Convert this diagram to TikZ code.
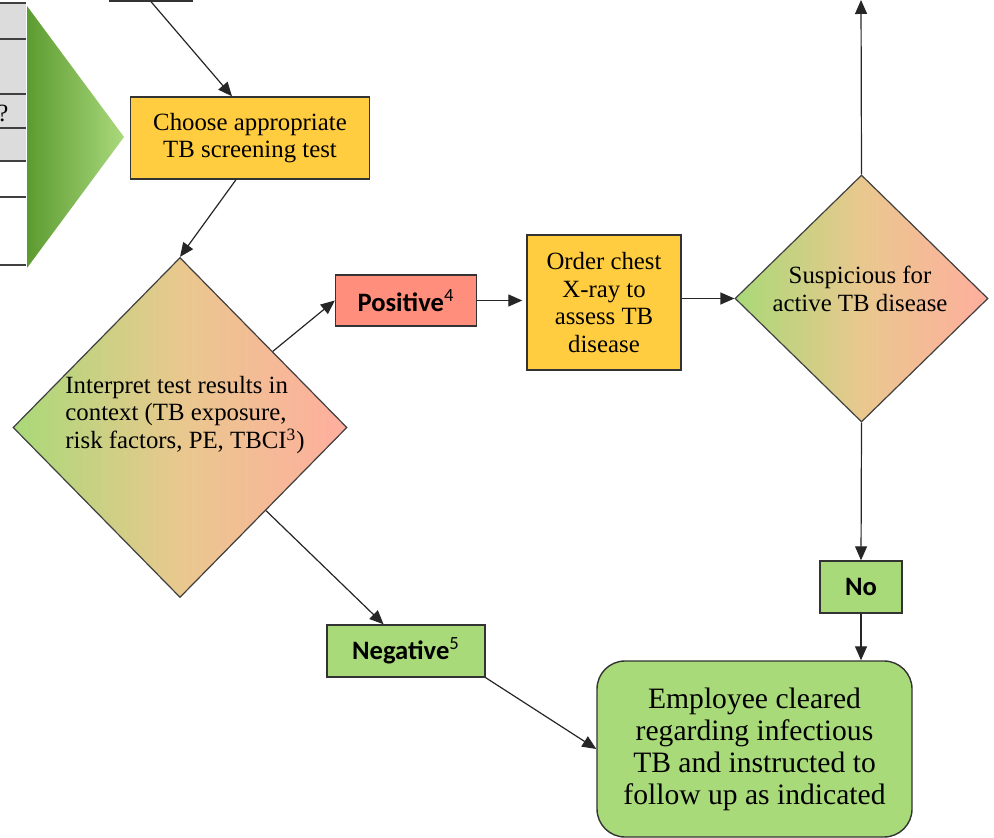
\documentclass[tikz,border=0pt]{standalone}
\usepackage{fontspec}
\setmainfont{Liberation Serif}
\newfontfamily\txtfont{Liberation Serif}
\newfontfamily\lblfont{Carlito}
\usetikzlibrary{shapes.geometric,arrows.meta}

\definecolor{boxyellow}{HTML}{FFCD3F}
\definecolor{boxsalmon}{HTML}{FF8E7C}
\definecolor{boxgreen}{HTML}{A9DA7A}
\definecolor{dmdgreen}{HTML}{A9D978}
\definecolor{dmdtan}{HTML}{E9C88E}
\definecolor{dmdpink}{HTML}{FFAE9E}
\definecolor{tabgray}{HTML}{DCDCDC}
\definecolor{trigdark}{HTML}{5C9B30}
\definecolor{triglight}{HTML}{AAD97C}

\begin{document}
\begin{tikzpicture}[x=0.5pt,y=-0.5pt,
    txt/.style={font=\txtfont\fontsize{12.4}{13.9}\selectfont},
    box/.style={rectangle, draw=black!80, line width=0.7pt, inner sep=0pt, align=center, txt},
    lbl/.style={rectangle, draw=black!80, line width=0.7pt, inner sep=0pt, font=\lblfont\bfseries\fontsize{13.3}{15}\selectfont},
    dmd/.style={diamond, draw=black!75, line width=0.6pt, inner sep=0pt, left color=dmdgreen, right color=dmdpink, middle color=dmdtan},
    arr/.style={-{Triangle[length=7pt,width=6pt]}, line width=0.6pt, draw=black!85}]
		\useasboundingbox (0,0) rectangle (994,838);

		% table fragment and green arrow on the left
		\fill[tabgray] (0,3) rectangle (26,161);
		\foreach \y in {3,39,94,128,161,197,265}
			\draw[line width=0.6pt, black!75] (0,\y) -- (26,\y);
		\node[txt] (qmark) at (3,113) {?};
		\shade[left color=trigdark, right color=triglight] (27,6) -- (124,137) -- (27,268) -- cycle;

		\path (151,-30) node[box, fill=white, minimum width=41pt, minimum height=31pt] (prev) {}
  		(250,138) node[box, fill=boxyellow, minimum width=119.5pt, minimum height=41pt] (choose) {Choose appropriate\\TB screening test}
  		(180,427.5) node[dmd, minimum width=167pt, minimum height=170pt] (interp) {}
  		(185,415) node[txt, align=left] (interptxt) {Interpret test results in\\context (TB exposure,\\risk factors, PE, TBCI\textsuperscript{3})}
  		(406,300.5) node[lbl, fill=boxsalmon, minimum width=70.5pt, minimum height=25.5pt] (pos) {Positive\textsuperscript{\mdseries 4}}
  		(604,302.5) node[box, fill=boxyellow, minimum width=77pt, minimum height=67.5pt] (xray) {Order chest\\X-ray to\\assess TB\\disease}
  		(861.5,298.5) node[dmd, minimum width=126.5pt, minimum height=123.5pt] (susp) {}
  		(860,289) node[txt, align=center] (susptxt) {Suspicious for\\active TB disease}
  		(861,587) node[lbl, fill=boxgreen, minimum width=41pt, minimum height=26pt] (no) {No}
  		(406,651) node[lbl, fill=boxgreen, minimum width=79pt, minimum height=26pt] (neg) {Negative\textsuperscript{\mdseries 5}}
  		(754.5,749) node[box, fill=boxgreen, rounded corners=14pt, minimum width=157.5pt, minimum height=88pt, font=\txtfont\fontsize{14.8}{16}\selectfont] (emp) {Employee cleared\\regarding infectious\\TB and instructed to\\follow up as indicated};
		\coordinate (top) at (861,0);

		\draw[arr] (prev.south) -- ([xshift=-9pt]choose.north);
		\draw[arr] ([xshift=-7pt]choose.south) -- (interp.north);
		\draw[arr] (interp) -- (pos.west);
		\draw[arr] (interp) -- (neg.130);
		\draw[arr, shorten >=2pt] (pos.east) -- (pos.east -| xray.west);
		\draw[arr] (xray.east |- susp) -- (susp.west);
		\draw[arr] (susp.north) -- (top);
		\draw[arr] (susp.south) -- (no.north);
		\draw[arr] (no.south) -- (no.south |- emp.north);
		\draw[arr] (neg.south east) -- (emp.west);
	\end{tikzpicture}
\end{document}
